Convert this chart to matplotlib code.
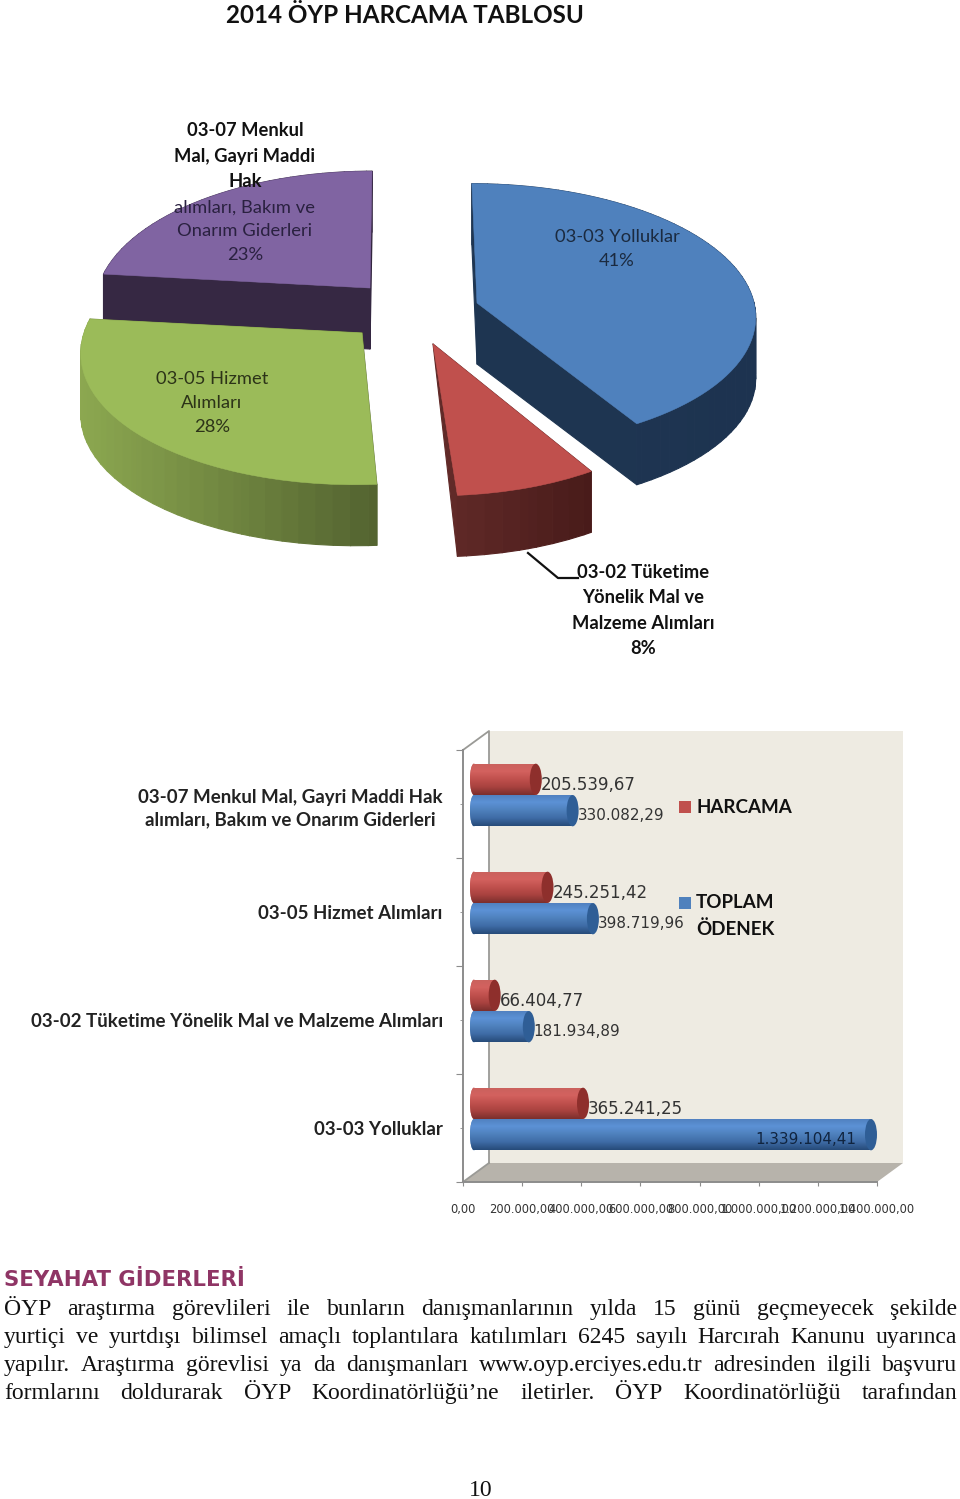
import numpy as np
import matplotlib
matplotlib.use("Agg")
from matplotlib import pyplot as plt
from matplotlib.collections import PolyCollection
from matplotlib.colors import LinearSegmentedColormap, to_rgb
from matplotlib.patches import Ellipse, Polygon, Rectangle
from matplotlib.transforms import Affine2D

# data
categories = ["03-03 Yolluklar",
              "03-02 Tüketime Yönelik Mal ve Malzeme Alımları",
              "03-05 Hizmet Alımları",
              "03-07 Menkul Mal, Gayri Maddi Hak\nalımları, Bakım ve Onarım Giderleri"]
harcama = [365241.25, 66404.77, 245251.42, 205539.67]
toplam_odenek = [1339104.41, 181934.89, 398719.96, 330082.29]
x_ticks = [0, 200000, 400000, 600000, 800000, 1000000, 1200000, 1400000]
pie_names = ["03-03 Yolluklar", "03-02 Tüketime\nYönelik Mal ve\nMalzeme Alımları",
             "03-05 Hizmet\nAlımları", "03-07 Menkul\nMal, Gayri Maddi\nHak"]
body_lines = ["ÖYP araştırma görevlileri ile bunların danışmanlarının yılda 15 günü geçmeyecek şekilde",
              "yurtiçi ve yurtdışı bilimsel amaçlı toplantılara katılımları 6245 sayılı Harcırah Kanunu uyarınca",
              "yapılır. Araştırma görevlisi ya da danışmanları www.oyp.erciyes.edu.tr adresinden ilgili başvuru",
              "formlarını doldurarak ÖYP Koordinatörlüğü’ne iletirler. ÖYP Koordinatörlüğü tarafından"]

W, H = 960, 1499
fig = plt.figure(figsize=(W / 100, H / 100), dpi=100, facecolor="white")
plt.rcParams["font.family"] = ["Lato", "DejaVu Sans"]


def tr_number(v):
    return f"{v:,.2f}".replace(",", "#").replace(".", ",").replace("#", ".")


def px_axes(x0, y0, x1, y1):
    return fig.add_axes([x0 / W, 1 - y1 / H, (x1 - x0) / W, (y1 - y0) / H])


# page axes in pixels, for pie faces, chart walls and loose text
page = px_axes(0, 0, W, H)
page.set_xlim(0, W)
page.set_ylim(H, 0)
page.axis("off")

page.text(405, 15, "2014 ÖYP HARCAMA TABLOSU", ha="center", va="center",
          fontsize=17.4, fontweight="bold", color="#111111")

# pie: wedges come from ax.pie, then get tilted and extruded by hand
pie_ax = px_axes(0, 0, 10, 10)
wedges, _ = pie_ax.pie(harcama, startangle=90, counterclock=False, radius=1)
pie_ax.set_visible(False)

apex = [(477, 303), (433, 344), (362, 333), (370, 288)]
top_col = ["#4F81BD", "#C0504D", "#9BBB59", "#8064A2"]
side_col = [("#1F3652", "#1D3350"), ("#632B29", "#481B1A"),
            ("#8CA850", "#536330"), ("#382A47", "#33263F")]
taper = [0, 1, 0, 0]
draw_order = [3, 0, 1, 2]
rx_px = [277, 268, 278, 272]
ry_px = [130, 132, 132, 132]
tilt = [0.09, 0.13, 0.13, 0.13]
shear = [-5.6, -3, 6, 2.3]
DEPTH = 61

for z, i in enumerate(draw_order):
    path = wedges[i].get_path().transformed(Affine2D().scale(300))
    uv = path.to_polygons()[0] / 300
    u, v = uv[:, 0], uv[:, 1]
    w = 1 + tilt[i] * v
    x = apex[i][0] + (rx_px[i] * u + shear[i] * v) / w
    y = apex[i][1] - ry_px[i] * v / w
    d = DEPTH * (1 - taper[i] * (1 - np.clip(np.hypot(u, v), 0, 1)))

    quads, cols = [], []
    left, right = np.array(to_rgb(side_col[i][0])), np.array(to_rgb(side_col[i][1]))
    for a in np.argsort((y[:-1] + y[1:]) / 2):
        b = a + 1
        quads.append([(x[a], y[a]), (x[b], y[b]), (x[b], y[b] + d[b]), (x[a], y[a] + d[a])])
        t = ((x[a] + x[b]) / 2 - x.min()) / (x.max() - x.min())
        cols.append(left + (right - left) * t)
    page.add_collection(PolyCollection(quads, facecolors=cols, edgecolors=cols,
                                       linewidths=0.8, zorder=2 + z * 2))
    page.add_patch(Polygon(np.column_stack([x, y]), closed=True, facecolor=top_col[i],
                           edgecolor=top_col[i], linewidth=0.4, zorder=3 + z * 2))

total = sum(harcama)
pct = [f"{val / total * 100:.0f}%" for val in harcama]
TXT = {"ha": "center", "va": "center", "zorder": 20, "fontsize": 13.2, "linespacing": 1.58}
page.text(617, 249, pie_names[0] + "\n" + pct[0], color="#1B2A3F", **TXT)
page.text(212, 403, pie_names[2] + "\n" + pct[2], color="#2C3318", **TXT)
page.text(245, 156, pie_names[3], color="#111111", fontweight="bold", **TXT)
page.text(245, 231, "alımları, Bakım ve\nOnarım Giderleri\n" + pct[3], color="#2A2140", **TXT)
page.text(643, 610.5, pie_names[1] + "\n" + pct[1], color="#111111", fontweight="bold", **TXT)
page.plot([528, 558, 578], [553, 578, 578], color="#111111", lw=1.6, zorder=20)

# back wall and floor of the 3d bar chart
page.add_patch(Rectangle((489, 731), 414, 432, facecolor="#EEEBE2", edgecolor="none", zorder=1))
page.add_patch(Polygon([(489, 1163), (903, 1163), (877, 1182), (463, 1182)],
                       facecolor="#B7B3AB", edgecolor="none", zorder=1))
page.plot([463, 489, 489], [750, 731, 1163], color="#9A9A96", lw=1.3, zorder=1.5)
page.plot([463, 489], [1182, 1163], color="#9A9A96", lw=1.3, zorder=1.5)

# front axes carry ticks and labels
front = px_axes(463, 750, 877, 1182)
front.patch.set_alpha(0)
front.set_xlim(0, 1400000)
front.set_ylim(-0.5, 3.5)
for s in ["top", "right"]:
    front.spines[s].set_visible(False)
for s in ["left", "bottom"]:
    front.spines[s].set_color("#8C8C8C")
    front.spines[s].set_linewidth(1.4)
front.set_xticks(x_ticks, [tr_number(t) for t in x_ticks], fontsize=8.3,
                 family=["DejaVu Sans"], color="#333333")
front.set_yticks(np.arange(-0.5, 4, 1), [])
front.set_yticks(range(len(categories)), categories, minor=True, fontsize=13.5,
                 fontweight="bold", color="#222222", multialignment="center")
for lab in front.get_yticklabels(minor=True):
    lab.set_linespacing(1.4)
front.tick_params(axis="x", length=3, pad=12, color="#8C8C8C")
front.tick_params(axis="y", which="major", length=5, color="#8C8C8C")
front.tick_params(axis="y", which="minor", length=2, pad=12.5, color="#8C8C8C")

# bars sit half way back in the depth
bars_ax = px_axes(464, 741, 888, 1173)
bars_ax.patch.set_alpha(0)
bars_ax.axis("off")
PX = 1400000 / 414
BAR_H = 0.29
red_cm = LinearSegmentedColormap.from_list("r", ["#C9615D", "#D4625F", "#C0504D", "#A8423F", "#7C2F2D"])
blue_cm = LinearSegmentedColormap.from_list("b", ["#4F7FBE", "#5C92D6", "#4F81BD", "#3F6CA6", "#274B7A"])
grad = np.linspace(0, 1, 64).reshape(-1, 1)
ys = np.arange(len(categories))


def draw_series(values, offset, base, cm, cap):
    bars = bars_ax.barh(ys + offset, values, height=BAR_H, color=base, zorder=2)
    for bar in bars:
        y0, y1 = bar.get_y(), bar.get_y() + bar.get_height()
        end = bar.get_width()
        left_end = Ellipse((0, (y0 + y1) / 2), 8 * PX, BAR_H, facecolor=base, edgecolor="none", zorder=1)
        bars_ax.add_patch(left_end)
        for patch, x0 in ((bar, 0), (left_end, -4 * PX)):
            im = bars_ax.imshow(grad, extent=[x0, end if patch is bar else 0, y0, y1], cmap=cm,
                                aspect="auto", origin="upper", zorder=3)
            im.set_clip_path(patch)
        bars_ax.add_patch(Ellipse((end + PX, (y0 + y1) / 2), 12 * PX, BAR_H, facecolor=cap,
                                  edgecolor="none", zorder=4))


draw_series(harcama, BAR_H / 2, "#C0504D", red_cm, "#8E2F2C")
draw_series(toplam_odenek, -BAR_H / 2, "#4F81BD", blue_cm, "#2F5E96")
bars_ax.set_xlim(-10 * PX, 1400000)
bars_ax.set_ylim(-0.5, 3.5)

LBL = {"textcoords": "offset points", "va": "center", "family": ["DejaVu Sans"], "zorder": 6}
for y, h, t in zip(ys, harcama, toplam_odenek):
    bars_ax.annotate(tr_number(h), (h, y + BAR_H / 2), xytext=(4.3, -4.3), fontsize=12,
                     color="#333333", **LBL)
    if t > 1000000:
        bars_ax.annotate(tr_number(t), (t, y - BAR_H / 2), xytext=(-10, -3.6), ha="right",
                         fontsize=10.9, color="#10243F", **LBL)
    else:
        bars_ax.annotate(tr_number(t), (t, y - BAR_H / 2), xytext=(4.3, -3.6), fontsize=10.9,
                         color="#333333", **LBL)

# legend
page.add_patch(Rectangle((679, 801), 12, 12, facecolor="#C0504D", zorder=5))
page.add_patch(Rectangle((679, 897), 12, 12, facecolor="#4F81BD", zorder=5))
page.text(696, 807, "HARCAMA", fontsize=13.5, fontweight="bold", va="center", color="#111111", zorder=5)
page.text(696, 902, "TOPLAM", fontsize=13.5, fontweight="bold", va="center", color="#111111", zorder=5)
page.text(696, 929, "ÖDENEK", fontsize=13.5, fontweight="bold", va="center", color="#111111", zorder=5)

# text under the charts
page.text(4, 1280, "SEYAHAT GİDERLERİ", fontsize=15.3, fontweight="bold", va="center",
          family=["DejaVu Sans"], color="#8F3565")

renderer = fig.canvas.get_renderer()
SERIF = {"family": ["Liberation Serif"], "fontsize": 17, "color": "#111111", "va": "baseline"}
for line, base_y in zip(body_lines, [1315, 1343, 1371, 1399]):
    words = [page.text(4, base_y, word, **SERIF) for word in line.split()]
    widths = [t.get_window_extent(renderer).width for t in words]
    gap = (957 - 4 - sum(widths)) / (len(words) - 1)
    xpos = 4
    for t, wd in zip(words, widths):
        t.set_x(xpos)
        xpos += wd + gap

page.text(481, 1496, "10", ha="center", **SERIF)

fig.savefig("out.png", dpi=100)
